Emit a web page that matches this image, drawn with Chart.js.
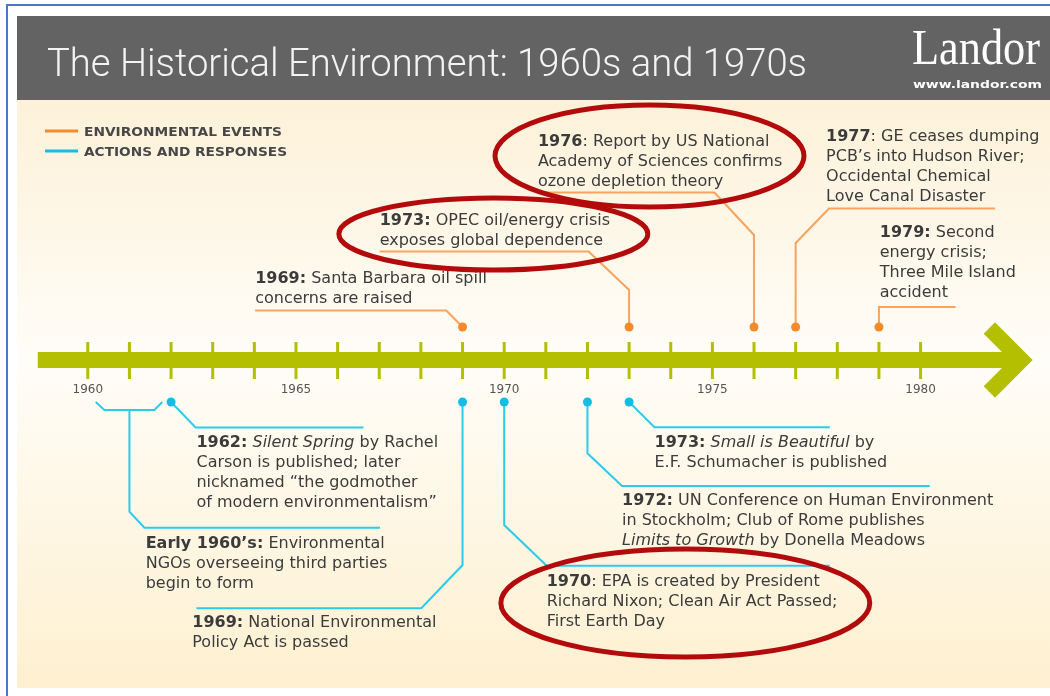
<!DOCTYPE html>
<html>
<head>
<meta charset="utf-8">
<script src="https://cdn.jsdelivr.net/npm/chart.js@4.4.1/dist/chart.umd.min.js"></script>
<style>
  html, body { margin: 0; padding: 0; background: #ffffff; }
  canvas { display: block; }
</style>
</head>
<body>
<canvas id="timeline" width="1050" height="696"></canvas>
<script>
// Timeline data
const tickYears = [1960, 1961, 1962, 1963, 1964, 1965, 1966, 1967, 1968, 1969, 1970,
                   1971, 1972, 1973, 1974, 1975, 1976, 1977, 1978, 1979, 1980];
const yearLabels = [1960, 1965, 1970, 1975, 1980];

// Environmental events (above the line)
const eventYears = [1969, 1973, 1976, 1977, 1979];
const eventLabels = [
    ['**1969:** Santa Barbara oil spill', 'concerns are raised'],
    ['**1973:** OPEC oil/energy crisis', 'exposes global dependence'],
    ['**1976**: Report by US National', 'Academy of Sciences confirms', 'ozone depletion theory'],
    ['**1977**: GE ceases dumping', 'PCB\u2019s into Hudson River;', 'Occidental Chemical', 'Love Canal Disaster'],
    ['**1979:** Second', 'energy crisis;', 'Three Mile Island', 'accident']
];

// Actions and responses (below the line)
const responseYears = [1962, 1969, 1970, 1972, 1973];
const responseLabels = [
    ['**1962:** _Silent Spring_ by Rachel', 'Carson is published; later', 'nicknamed \u201cthe godmother', 'of modern environmentalism\u201d'],
    ['**1969:** National Environmental', 'Policy Act is passed'],
    ['**1970**: EPA is created by President', 'Richard Nixon; Clean Air Act Passed;', 'First Earth Day'],
    ['**1972:** UN Conference on Human Environment', 'in Stockholm; Club of Rome publishes', '_Limits to Growth_ by Donella Meadows'],
    ['**1973:** _Small is Beautiful_ by', 'E.F. Schumacher is published']
];
const earlySpan = [1960, 1962];
const earlyLabel = ['**Early 1960\u2019s:** Environmental', 'NGOs overseeing third parties', 'begin to form'];

// Layout (x in years, y in rows of 20px, 0 = timeline)
const EVENT_DOT = 1.65;
const RESP_DOT = -2.1;
const eventPaths = [
    [[1964.02, 2.475], [1968.61, 2.475], [1969, EVENT_DOT]],
    [[1967.01, 5.425], [1972.03, 5.425], [1973, 3.5], [1973, EVENT_DOT]],
    [[1970.79, 8.375], [1975.05, 8.375], [1976, 6.25], [1976, EVENT_DOT]],
    [[1977, EVENT_DOT], [1977, 5.85], [1977.80, 7.575], [1981.79, 7.575]],
    [[1979, EVENT_DOT], [1979, 2.65], [1980.84, 2.65]]
];
const eventTextAt = [[1964.02, 4.05], [1967.01, 6.95], [1970.81, 10.9], [1977.73, 11.15], [1979.02, 6.35]];
const responsePaths = [
    [[1962, RESP_DOT], [1962.59, -3.375], [1966.62, -3.375]],
    [[1969, RESP_DOT], [1969, -10.25], [1968.01, -12.415], [1962.61, -12.415]],
    [[1970, RESP_DOT], [1970, -8.25], [1971.02, -10.285], [1977.82, -10.285]],
    [[1972, RESP_DOT], [1972, -4.665], [1972.83, -6.3], [1980.22, -6.3]],
    [[1973, RESP_DOT], [1973.61, -3.365], [1977.82, -3.365]]
];
const responseTextAt = [[1962.61, -4.135], [1962.51, -13.135], [1971.02, -11.085], [1972.83, -7.035], [1973.61, -4.135]];
const earlyBracket = [[earlySpan[0] + 0.19, RESP_DOT], [earlySpan[0] + 0.4, -2.5], [earlySpan[1] - 0.4, -2.5], [earlySpan[1] - 0.21, RESP_DOT]];
const earlyStem = [[1961.0, -2.5], [1961.0, -7.585], [1961.36, -8.385], [1967.02, -8.385]];
const earlyTextAt = [1961.39, -9.2];

// Red highlight circles: [centre year, centre row, x radius (years), y radius (rows)]
const highlights = [
    [1973.49, 10.2, 3.71, 2.55],
    [1969.74, 6.3, 3.71, 1.8],
    [1974.35, -12.15, 4.43, 2.7]
];

const ORANGE = '#f58a2a';
const ORANGE_LINE = '#f9a45c';
const CYAN = '#14bde3';
const CYAN_LINE = '#2ccbec';
const GREEN = '#b3bf00';
const TEXT = '#3b3b3b';
const BODY_FONT = '"DejaVu Sans"';

function toPoints(path) {
    return path.map(p => ({ x: p[0], y: p[1] }));
}

function fitText(ctx, text, x, y, width) {
    const w = ctx.measureText(text).width;
    ctx.save();
    ctx.translate(x, y);
    ctx.scale(width / w, 1);
    ctx.fillText(text, 0, 0);
    ctx.restore();
}

function drawRich(ctx, line, x, y) {
    const parts = line.split(/(\*\*[^*]+\*\*|_[^_]+_)/).filter(Boolean);
    parts.forEach(part => {
        let style = '';
        let t = part;
        if (part.startsWith('**')) { style = 'bold '; t = part.slice(2, -2); }
        else if (part.length > 1 && part.startsWith('_') && part.endsWith('_')) { style = 'italic '; t = part.slice(1, -1); }
        ctx.font = style + '16px ' + BODY_FONT;
        ctx.fillText(t, x, y);
        x += ctx.measureText(t).width;
    });
}

// Page frame, header and legend
const backdrop = {
    id: 'backdrop',
    beforeDraw(chart) {
        const ctx = chart.ctx;
        ctx.save();
        ctx.fillStyle = '#ffffff';
        ctx.fillRect(0, 0, 1050, 696);
        ctx.fillStyle = '#4a78c8';
        ctx.fillRect(6, 4, 1044, 2);
        ctx.fillRect(6, 4, 2, 692);

        const grad = ctx.createLinearGradient(0, 100, 0, 688);
        grad.addColorStop(0, '#fdf1d8');
        grad.addColorStop(0.44, '#fffdf8');
        grad.addColorStop(1, '#fef0d0');
        ctx.fillStyle = grad;
        ctx.fillRect(17, 100, 1033, 588);

        ctx.fillStyle = '#636363';
        ctx.fillRect(17, 16, 1033, 84);

        ctx.fillStyle = '#f3f3f3';
        ctx.textBaseline = 'alphabetic';
        ctx.font = '300 38px Roboto';
        fitText(ctx, 'The Historical Environment: 1960s and 1970s', 47, 76, 760);
        ctx.fillStyle = '#ffffff';
        ctx.font = '50px "Liberation Serif"';
        fitText(ctx, 'Landor', 912, 64, 128);
        ctx.font = 'bold 11px ' + BODY_FONT;
        fitText(ctx, 'www.landor.com', 913, 88, 129);

        // legend
        ctx.lineWidth = 3;
        ctx.strokeStyle = ORANGE;
        ctx.beginPath(); ctx.moveTo(45, 131); ctx.lineTo(78, 131); ctx.stroke();
        ctx.strokeStyle = CYAN;
        ctx.beginPath(); ctx.moveTo(45, 151); ctx.lineTo(78, 151); ctx.stroke();
        ctx.fillStyle = '#474747';
        ctx.textBaseline = 'middle';
        ctx.font = 'bold 12px ' + BODY_FONT;
        fitText(ctx, 'ENVIRONMENTAL EVENTS', 84, 132.5, 198);
        fitText(ctx, 'ACTIONS AND RESPONSES', 84, 152.5, 203);
        ctx.restore();
    }
};

// Green arrow, year ticks and year labels
const timeline = {
    id: 'timeline',
    beforeDatasetsDraw(chart) {
        const ctx = chart.ctx;
        const x = chart.scales.x;
        const y = chart.scales.y;
        const y0 = y.getPixelForValue(0);
        const tip = x.getPixelForValue(1982.42);
        ctx.save();
        ctx.strokeStyle = GREEN;
        ctx.lineCap = 'butt';
        ctx.lineJoin = 'miter';
        ctx.lineWidth = 16;
        ctx.beginPath();
        ctx.moveTo(x.getPixelForValue(1958.8), y0);
        ctx.lineTo(tip - 4, y0);
        ctx.stroke();
        ctx.beginPath();
        ctx.moveTo(tip - 32, y0 - 32);
        ctx.lineTo(tip, y0);
        ctx.lineTo(tip - 32, y0 + 32);
        ctx.stroke();

        ctx.lineWidth = 3;
        tickYears.forEach(yr => {
            const px = x.getPixelForValue(yr);
            ctx.beginPath();
            ctx.moveTo(px, y.getPixelForValue(0.9));
            ctx.lineTo(px, y.getPixelForValue(-0.95));
            ctx.stroke();
        });

        ctx.fillStyle = '#555555';
        ctx.font = '12px ' + BODY_FONT;
        ctx.textAlign = 'center';
        ctx.textBaseline = 'middle';
        yearLabels.forEach(yr => {
            ctx.fillText(String(yr), x.getPixelForValue(yr), y.getPixelForValue(-1.5));
        });
        ctx.restore();
    }
};

// Event and response descriptions
const labels = {
    id: 'labels',
    afterDatasetsDraw(chart) {
        const ctx = chart.ctx;
        const x = chart.scales.x;
        const y = chart.scales.y;
        ctx.save();
        ctx.fillStyle = TEXT;
        ctx.textAlign = 'left';
        ctx.textBaseline = 'middle';
        const put = (lines, at) => {
            lines.forEach((line, i) => {
                drawRich(ctx, line, x.getPixelForValue(at[0]), y.getPixelForValue(at[1] - i));
            });
        };
        eventLabels.forEach((lines, i) => put(lines, eventTextAt[i]));
        responseLabels.forEach((lines, i) => put(lines, responseTextAt[i]));
        put(earlyLabel, earlyTextAt);
        ctx.restore();
    }
};

// Red highlight ellipses
const circles = {
    id: 'circles',
    afterDraw(chart) {
        const ctx = chart.ctx;
        const x = chart.scales.x;
        const y = chart.scales.y;
        ctx.save();
        ctx.strokeStyle = '#b30b0b';
        ctx.lineWidth = 5;
        highlights.forEach(h => {
            const cx = x.getPixelForValue(h[0]);
            const cy = y.getPixelForValue(h[1]);
            const rx = x.getPixelForValue(h[0] + h[2]) - cx;
            const ry = cy - y.getPixelForValue(h[1] + h[3]);
            ctx.beginPath();
            ctx.ellipse(cx, cy, rx, ry, 0, 0, Math.PI * 2);
            ctx.stroke();
        });
        ctx.restore();
    }
};

const lineStyle = (color) => ({
    showLine: true,
    pointRadius: 0,
    borderColor: color,
    borderWidth: 2,
    fill: false,
    tension: 0,
    clip: false
});

const datasets = [
    {
        label: 'Environmental events',
        data: eventYears.map(yr => ({ x: yr, y: EVENT_DOT })),
        pointRadius: 4.5,
        pointBackgroundColor: ORANGE,
        pointBorderWidth: 0,
        clip: false
    },
    {
        label: 'Actions and responses',
        data: responseYears.map(yr => ({ x: yr, y: RESP_DOT })),
        pointRadius: 4.5,
        pointBackgroundColor: CYAN,
        pointBorderWidth: 0,
        clip: false
    }
];
eventPaths.forEach(path => datasets.push({ data: toPoints(path), ...lineStyle(ORANGE_LINE) }));
responsePaths.forEach(path => datasets.push({ data: toPoints(path), ...lineStyle(CYAN_LINE) }));
datasets.push({ data: toPoints(earlyBracket), ...lineStyle(CYAN_LINE) });
datasets.push({ data: toPoints(earlyStem), ...lineStyle(CYAN_LINE) });

new Chart(document.getElementById('timeline'), {
    type: 'scatter',
    data: { datasets: datasets },
    options: {
        responsive: false,
        devicePixelRatio: 1,
        animation: false,
        events: [],
        layout: { padding: { left: 1, right: 4, top: 100, bottom: 6 } },
        scales: {
            x: { type: 'linear', min: 1958, max: 1983, display: false },
            y: { type: 'linear', min: -16.5, max: 13, display: false }
        },
        plugins: {
            legend: { display: false },
            tooltip: { enabled: false }
        }
    },
    plugins: [backdrop, timeline, labels, circles]
});
</script>
</body>
</html>
